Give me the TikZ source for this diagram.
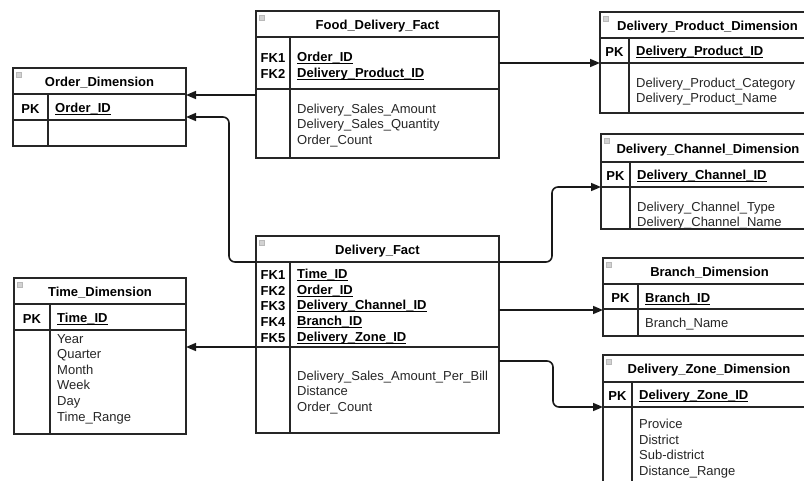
\documentclass[tikz,border=0pt]{standalone}
\usepackage{fontspec}
\setmainfont{Liberation Sans}
\usetikzlibrary{arrows.meta}
\newcommand\keyul[1]{\setbox0\hbox{#1}\rlap{\rule[-2.4pt]{\wd0}{0.9pt}}\box0}
\newcommand\erbox[8]{%
  \node[tbl, minimum width={(#4-#2)*1pt}, minimum height={(#5-#3)*1pt}] (#1) at (#2,#3) {};
  \draw[tline] (#2,#6) -- (#4,#6) (#2,#7) -- (#4,#7) (#8,#6) -- (#8,#5);
  \draw[icon] ({#2+3},{#3+4}) rectangle ++(5,5);
}
\tikzset{
  tbl/.style={draw=black!85, line width=1.5pt, inner sep=0pt, outer sep=0pt, anchor=north west},
  tline/.style={draw=black!85, line width=1.3pt},
  icon/.style={fill=gray!35, draw=gray!55, line width=0.4pt},
  ttl/.style={font=\bfseries\fontsize{13}{15.6}\selectfont, inner sep=0pt, yshift=-2pt},
  lbl/.style={font=\bfseries\fontsize{13}{15.6}\selectfont, align=center, inner sep=0pt, yshift=-2pt},
  keyt/.style={font=\bfseries\fontsize{13}{15.6}\selectfont, align=left, anchor=west, inner sep=0pt, yshift=-2pt},
  attr/.style={font=\fontsize{13}{15.6}\selectfont, align=left, anchor=west, inner sep=0pt, text=black!85, yshift=-2pt},
  fk/.style={draw=black!90, line width=1.6pt, rounded corners=6pt, -{Triangle[length=10pt,width=8pt]}},
}
\begin{document}
\begin{tikzpicture}[x=1pt,y=-1pt]
\useasboundingbox (0,0) rectangle (804,480);
\clip (0,0) rectangle (804,480);
\fill[white] (0,0) rectangle (804,480);

% Food_Delivery_Fact
\erbox{fdf}{256}{11}{499}{158}{37}{89}{290}
\node[ttl] (fdft) at (377.5,24) {Food\_Delivery\_Fact};
\node[lbl] (fdfk) at (273,64) {FK1\\FK2};
\node[keyt] (fdfkeys) at (297,64) {\keyul{Order\_ID}\\\keyul{Delivery\_Product\_ID}};
\node[attr] (fdfa) at (297,123.5) {Delivery\_Sales\_Amount\\Delivery\_Sales\_Quantity\\Order\_Count};

% Delivery_Product_Dimension
\erbox{dpd}{600}{12}{815}{113}{38}{63}{629}
\node[ttl] (dpdt) at (707.5,25) {Delivery\_Product\_Dimension};
\node[lbl] (dpdk) at (614.5,50.5) {PK};
\node[keyt] (dpdkeys) at (636,50.5) {\keyul{Delivery\_Product\_ID}};
\node[attr] (dpda) at (636,89.5) {Delivery\_Product\_Category\\Delivery\_Product\_Name};

% Order_Dimension
\erbox{od}{13}{68}{186}{146}{94}{120}{48}
\node[ttl] (odt) at (99.5,81) {Order\_Dimension};
\node[lbl] (odk) at (30.5,107) {PK};
\node[keyt] (odkeys) at (55,107) {\keyul{Order\_ID}};

% Delivery_Fact
\erbox{df}{256}{236}{499}{433}{262}{347}{290}
\node[ttl] (dft) at (377.5,249) {Delivery\_Fact};
\node[lbl] (dfk) at (273,304.5) {FK1\\FK2\\FK3\\FK4\\FK5};
\node[keyt] (dfkeys) at (297,304.5) {\keyul{Time\_ID}\\\keyul{Order\_ID}\\\keyul{Delivery\_Channel\_ID}\\\keyul{Branch\_ID}\\\keyul{Delivery\_Zone\_ID}};
\node[attr] (dfa) at (297,390.5) {Delivery\_Sales\_Amount\_Per\_Bill\\Distance\\Order\_Count};

% Delivery_Channel_Dimension
\erbox{dcd}{601}{134}{815}{229}{162}{187}{630}
\node[ttl] (dcdt) at (708,148) {Delivery\_Channel\_Dimension};
\node[lbl] (dcdk) at (615.5,174.5) {PK};
\node[keyt] (dcdkeys) at (637,174.5) {\keyul{Delivery\_Channel\_ID}};
\node[attr] (dcda) at (637,213.5) {Delivery\_Channel\_Type\\Delivery\_Channel\_Name};

% Branch_Dimension
\erbox{bd}{603}{258}{815}{336}{284}{309}{638}
\node[ttl] (bdt) at (709.5,271) {Branch\_Dimension};
\node[lbl] (bdk) at (620.5,296.5) {PK};
\node[keyt] (bdkeys) at (645,296.5) {\keyul{Branch\_ID}};
\node[attr] (bda) at (645,322.5) {Branch\_Name};

% Delivery_Zone_Dimension
\erbox{zd}{603}{355}{815}{495}{382}{407}{632}
\node[ttl] (zdt) at (709,368.5) {Delivery\_Zone\_Dimension};
\node[lbl] (zdk) at (617.5,394.5) {PK};
\node[keyt] (zdkeys) at (639,394.5) {\keyul{Delivery\_Zone\_ID}};
\node[attr] (zda) at (639,446.5) {Provice\\District\\Sub-district\\Distance\_Range};

% Time_Dimension
\erbox{td}{14}{278}{186}{434}{304}{330}{50}
\node[ttl] (tdt) at (100,291) {Time\_Dimension};
\node[lbl] (tdk) at (32,317) {PK};
\node[keyt] (tdkeys) at (57,317) {\keyul{Time\_ID}};
\node[attr] (tda) at (57,377) {Year\\Quarter\\Month\\Week\\Day\\Time\_Range};

% connectors
\draw[fk] (fdf.west |- 0,95) -- (od.east |- 0,95);
\draw[fk] (df.west |- 0,262) -- (229,262) -- (229,117) -- (od.east |- 0,117);
\draw[fk] (fdf.east |- 0,63) -- (dpd.west |- 0,63);
\draw[fk] (df.east |- 0,262) -- (552,262) -- (552,187) -- (dcd.west |- 0,187);
\draw[fk] (df.east |- 0,310) -- (bd.west |- 0,310);
\draw[fk] (df.east |- 0,361) -- (553,361) -- (553,407) -- (zd.west |- 0,407);
\draw[fk] (df.west |- 0,347) -- (td.east |- 0,347);
\end{tikzpicture}
\end{document}
